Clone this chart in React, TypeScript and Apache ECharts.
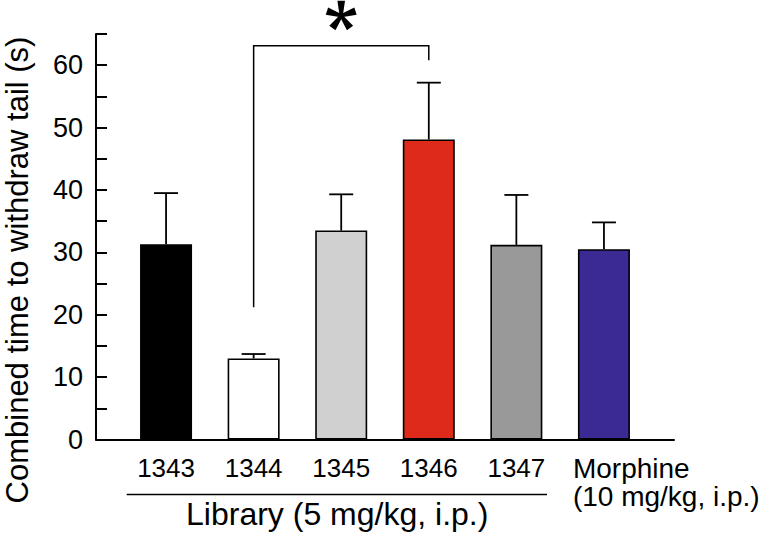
import React, { useEffect, useRef } from 'react';
import * as echarts from 'echarts';

const categories = ['1343', '1344', '1345', '1346', '1347', 'Morphine'];
const means = [31.3, 13.0, 33.5, 48.1, 31.2, 30.5];
const upperErr = [39.5, 13.7, 39.3, 57.2, 39.2, 34.8];
const barColors = ['#000000', '#ffffff', '#d0d0d0', '#dd2a1b', '#999999', '#3b2a94'];
const yTickValues = [0, 10, 20, 30, 40, 50, 60];
const libraryLabel = 'Library (5 mg/kg, i.p.)';
const libraryRange = [-0.45, 4.35];
const morphineDose = '(10 mg/kg, i.p.)';
const yTitle = 'Combined time to withdraw tail (s)';
const bracketIdx = [1, 3];
const bracketY = [21.2, 63.1, 60.8];

const FONT = 'Liberation Sans, Arial, Helvetica, sans-serif';

export default function App() {
  const ref = useRef<HTMLDivElement>(null);
  useEffect(() => {
    const chart = echarts.init(ref.current!, null, { renderer: 'svg' });
    const option: any = {
      animation: false,
      backgroundColor: '#ffffff',
      grid: { left: 96, right: 93, top: 34, bottom: 102.5 },
      xAxis: {
        type: 'value',
        min: -0.8,
        max: 5.8,
        axisLine: { show: true, onZero: false, lineStyle: { color: '#000', width: 2 } },
        axisTick: { show: false },
        axisLabel: { show: false },
        splitLine: { show: false },
      },
      yAxis: {
        type: 'value',
        min: 0,
        max: 65,
        interval: 5,
        axisLine: { show: true, onZero: false, lineStyle: { color: '#000', width: 2 } },
        axisTick: { show: true, inside: true, length: 11, lineStyle: { color: '#000', width: 2 } },
        axisLabel: {
          margin: 13,
          color: '#000',
          fontFamily: FONT,
          fontSize: 27,
          formatter: (v: number) => (yTickValues.indexOf(v) >= 0 ? String(v) : ''),
        },
        splitLine: { show: false },
      },
      graphic: [
        {
          type: 'text',
          x: 17,
          y: 270,
          rotation: Math.PI / 2,
          style: {
            text: yTitle,
            font: `31px ${FONT}`,
            fill: '#000',
            align: 'center',
            verticalAlign: 'middle',
          },
        },
      ],
      series: [
        {
          type: 'bar',
          barWidth: 52,
          data: means.map((m, i) => ({
            value: [i, m],
            itemStyle: { color: barColors[i], borderColor: '#000', borderWidth: 1.6 },
          })),
        },
        {
          type: 'custom',
          clip: false,
          data: means.map((m, i) => [i, m, upperErr[i]]),
          renderItem: (params: any, api: any) => {
            const i = api.value(0);
            const p0 = api.coord([i, api.value(1)]);
            const p1 = api.coord([i, api.value(2)]);
            const st = { stroke: '#000', lineWidth: 1.8 };
            return {
              type: 'group',
              children: [
                { type: 'line', shape: { x1: p0[0], y1: p0[1], x2: p1[0], y2: p1[1] }, style: st },
                { type: 'line', shape: { x1: p1[0] - 12, y1: p1[1], x2: p1[0] + 12, y2: p1[1] }, style: st },
              ],
            };
          },
          z: 3,
        },
        {
          type: 'custom',
          clip: false,
          data: categories.map((c, i) => [i, 0]),
          renderItem: (params: any, api: any) => {
            const i = api.value(0);
            const p = api.coord([i, 0]);
            const name = categories[i];
            if (name === 'Morphine') {
              return {
                type: 'text',
                x: p[0] - 31,
                y: p[1] + 15,
                style: {
                  text: name + '\n' + morphineDose,
                  font: `28px ${FONT}`,
                  lineHeight: 28,
                  fill: '#000',
                  align: 'left',
                  verticalAlign: 'top',
                },
              };
            }
            return {
              type: 'text',
              x: p[0],
              y: p[1] + 28,
              style: { text: name, font: `26px ${FONT}`, fill: '#000', align: 'center', verticalAlign: 'middle' },
            };
          },
        },
        {
          type: 'custom',
          clip: false,
          data: [[libraryRange[0], 0, libraryRange[1]]],
          renderItem: (params: any, api: any) => {
            const a = api.coord([api.value(0), 0]);
            const b = api.coord([api.value(2), 0]);
            const mid = api.coord([2, 0]);
            return {
              type: 'group',
              children: [
                { type: 'line', shape: { x1: a[0], y1: a[1] + 55, x2: b[0], y2: b[1] + 55 }, style: { stroke: '#000', lineWidth: 1.5 } },
                {
                  type: 'text',
                  x: mid[0] - 4,
                  y: a[1] + 74,
                  style: { text: libraryLabel, font: `32px ${FONT}`, fill: '#000', align: 'center', verticalAlign: 'middle' },
                },
              ],
            };
          },
        },
        {
          type: 'custom',
          clip: false,
          data: [[bracketIdx[0], bracketY[0], bracketIdx[1], bracketY[1], bracketY[2]]],
          renderItem: (params: any, api: any) => {
            const l0 = api.coord([api.value(0), api.value(1)]);
            const lt = api.coord([api.value(0), api.value(3)]);
            const rt = api.coord([api.value(2), api.value(3)]);
            const r0 = api.coord([api.value(2), api.value(4)]);
            const cx = (lt[0] + rt[0]) / 2;
            const cy = lt[1] - 30;
            const arms: any[] = [];
            const L = 15;
            for (let k = 0; k < 5; k++) {
              const th = (Math.PI / 2) + (k * 2 * Math.PI) / 5;
              const dx = Math.cos(th);
              const dy = -Math.sin(th);
              const px = -dy;
              const py = dx;
              arms.push({
                type: 'polygon',
                shape: {
                  points: [
                    [cx + px * 1.6, cy + py * 1.6],
                    [cx + dx * L + px * 3.8, cy + dy * L + py * 3.8],
                    [cx + dx * L - px * 3.8, cy + dy * L - py * 3.8],
                    [cx - px * 1.6, cy - py * 1.6],
                  ],
                },
                style: { fill: '#000' },
              });
            }
            return {
              type: 'group',
              children: [
                {
                  type: 'polyline',
                  shape: { points: [l0, lt, rt, r0] },
                  style: { stroke: '#000', lineWidth: 1.5, fill: 'none' },
                },
                ...arms,
              ],
            };
          },
        },
      ],
    };
    chart.setOption(option);
    return () => chart.dispose();
  }, []);
  return <div ref={ref} style={{ position: 'absolute', left: 0, top: 0, width: 767, height: 542 }} />;
}
